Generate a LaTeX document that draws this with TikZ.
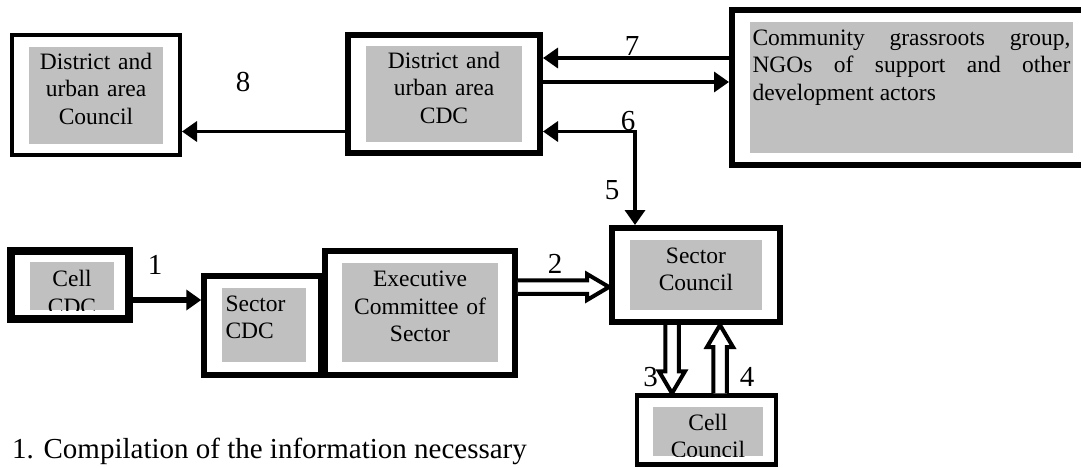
\documentclass[tikz,border=0pt]{standalone}
\usepackage{fontspec}
\setmainfont{Liberation Serif}
\usetikzlibrary{arrows.meta,calc}
\definecolor{boxgrey}{RGB}{192,192,192}
\newcommand\boxfont{\fontsize{23.5pt}{27.5pt}\selectfont}
\newcommand\labfont{\fontsize{29pt}{34pt}\selectfont}
\newcommand\strt{\rule{0pt}{18pt}}
\hyphenpenalty=10000
\hbadness=10000
\tolerance=9999
\newcommand\blockarr[2]{%
  \draw[barrow] let \p1=(#1), \p2=(#2), \p3=($(\p2)!22pt!(\p1)$) in
   ($(\p1)!6.75pt!90:(\p2)$) -- ($(\p3)!6.75pt!90:(\p2)$) -- ($(\p3)!13pt!90:(\p2)$)
   -- (\p2) -- ($(\p3)!13pt!-90:(\p2)$) -- ($(\p3)!6.75pt!-90:(\p2)$) -- ($(\p1)!6.75pt!-90:(\p2)$);}
\begin{document}
\begin{tikzpicture}[x=1pt,y=-1pt,
  obox/.style={draw=black, fill=white, inner sep=0pt},
  gbox/.style={fill=boxgrey, inner sep=0pt, outer sep=0pt},
  txt/.style={font=\boxfont, inner sep=0pt, outer sep=0pt, align=center,
              minimum width=0pt, minimum height=0pt, fill=none, draw=none},
  lab/.style={font=\labfont, inner sep=0pt},
  tip/.tip={Triangle[length=15pt,width=20pt]},
  conn/.style={line width=3.5pt, -tip},
  barrow/.style={line width=4pt, fill=white, line join=miter}
]
\useasboundingbox (0,0) rectangle (1081,467);

% District and urban area Council
\node[obox, line width=4pt, minimum width=168pt, minimum height=120pt] (dc) at (96,95) {};
\node[gbox, minimum width=134pt, minimum height=97pt,
  path picture={\node[txt, text width=134pt, anchor=north] at ([yshift=-4pt]path picture bounding box.north) {\strt District and\\urban area\\Council};}] (dcg) at (96,95.5) {};

% District and urban area CDC
\node[obox, line width=6pt, minimum width=192pt, minimum height=118pt] (cdc) at (444,94) {};
\node[gbox, minimum width=156pt, minimum height=96pt,
  path picture={\node[txt, text width=156pt, anchor=north] at ([yshift=-4.3pt]path picture bounding box.north) {\strt District and\\urban area\\CDC};}] (cdcg) at (444,94) {};

% Community box
\node[obox, line width=6pt, minimum width=359pt, minimum height=155pt] (comm) at (911.5,87.5) {};
\node[gbox, minimum width=323pt, minimum height=131pt,
  path picture={\node[txt, text width=318pt, align=justify, anchor=north] at ([yshift=-5pt]path picture bounding box.north) {\noindent\strt Community grassroots group,\linebreak NGOs of support and other\linebreak development actors};}] (commg) at (911.5,87.5) {};

% Sector Council
\node[obox, line width=6pt, minimum width=168pt, minimum height=94pt] (sc) at (696,275) {};
\node[gbox, minimum width=132pt, minimum height=70pt,
  path picture={\node[txt, text width=132pt, anchor=north] at ([yshift=-5pt]path picture bounding box.north) {\strt Sector\\Council};}] (scg) at (696,275) {};

% Cell Council
\node[obox, line width=4.5pt, minimum width=139pt, minimum height=69pt] (cellc) at (706.5,430) {};
\node[gbox, minimum width=110pt, minimum height=49pt,
  path picture={\node[txt, text width=110pt, anchor=north] at ([yshift=-5pt]path picture bounding box.north) {\strt Cell\\Council};}] (cellcg) at (708,431.5) {};

% Cell CDC
\node[obox, line width=7.5pt, minimum width=118pt, minimum height=68pt] (cellcdc) at (70,285) {};
\node[gbox, minimum width=84pt, minimum height=48pt,
  path picture={\node[txt, text width=84pt, anchor=north] at ([yshift=-6.7pt]path picture bounding box.north) {\strt Cell\\CDC};}] (cellcdcg) at (72,286) {};

% Sector CDC
\node[obox, line width=5.5pt, minimum width=117pt, minimum height=99pt] (sectorcdc) at (262.5,325.5) {};
\node[gbox, minimum width=84pt, minimum height=74pt,
  path picture={\node[txt, align=left, anchor=north west] at ([xshift=3.5pt,yshift=-5pt]path picture bounding box.north west) {\strt Sector\\CDC};}] (sectorcdcg) at (264,325) {};

% Executive Committee of Sector
\node[obox, line width=5.5pt, minimum width=190pt, minimum height=124pt] (exec) at (420,313) {};
\node[gbox, minimum width=156pt, minimum height=99pt,
  path picture={\node[txt, text width=156pt, anchor=north] at ([yshift=-5.8pt]path picture bounding box.north) {\strt Executive\\Committee of\\Sector};}] (execg) at (420,312.5) {};

% helper coordinates
\coordinate (j) at (635,131.5);
\coordinate (ya) at (0,58);
\coordinate (yb) at (0,82);
\coordinate (yc) at (0,131.5);
\coordinate (yd) at (0,300);
\coordinate (ye) at (0,287);
\coordinate (xa) at (672,0);
\coordinate (xb) at (720,0);

% connectors
\draw[conn] (cdc.west |- yc) -- (dc.east |- yc);
\draw[conn] (comm.west |- ya) -- (cdc.east |- ya);
\draw[conn] (cdc.east |- yb) -- (comm.west |- yb);
\draw[line width=3.5pt, tip-tip] (cdc.east |- j) -| (sc.north -| j);
\draw[conn, line width=6.5pt] (cellcdc.east |- yd) -- (sectorcdc.west |- yd);
\blockarr{exec.east |- ye}{sc.west |- ye}
\blockarr{sc.south -| xa}{cellc.north -| xa}
\blockarr{cellc.north -| xb}{sc.south -| xb}

% labels
\node[lab] (l8) at (243,81.5) {8};
\node[lab] (l7) at (632,45.5) {7};
\node[lab] (l6) at (628,121.5) {6};
\node[lab] (l5) at (612,190) {5};
\node[lab] (l1) at (155,265) {1};
\node[lab] (l2) at (555,264) {2};
\node[lab] (l3) at (650.5,377) {3};
\node[lab] (l4) at (747,377) {4};
\node[lab, anchor=base west] (note) at (12,458) {1. Compilation of the information necessary};
\end{tikzpicture}
\end{document}
